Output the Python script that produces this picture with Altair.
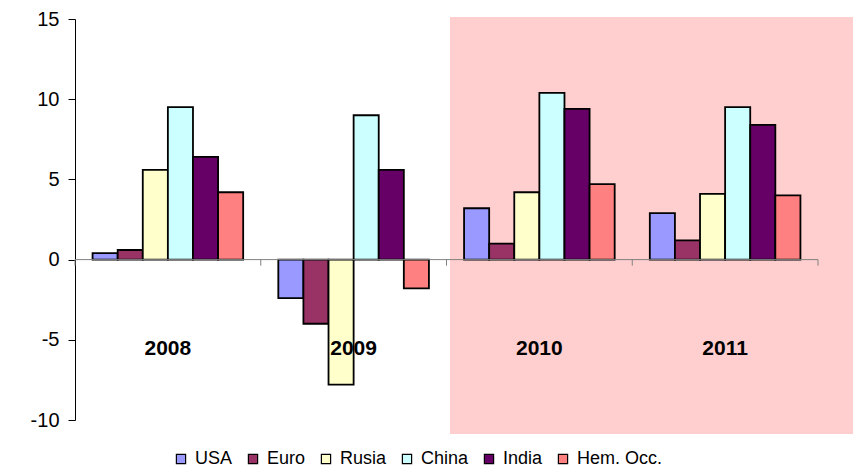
import altair as alt
import pandas as pd

years = ["2008", "2009", "2010", "2011"]
countries = ["USA", "Euro", "Rusia", "China", "India", "Hem. Occ."]
colors = ["#9999FF", "#993366", "#FFFFCC", "#CCFFFF", "#660066", "#FF8080"]

usa = [0.4, -2.4, 3.2, 2.9]
euro = [0.6, -4.0, 1.0, 1.2]
rusia = [5.6, -7.8, 4.2, 4.1]
china = [9.5, 9.0, 10.4, 9.5]
india = [6.4, 5.6, 9.4, 8.4]
hem = [4.2, -1.8, 4.7, 4.0]

y_ticks = [-10, -5, 0, 5, 10, 15]

series = [usa, euro, rusia, china, india, hem]
rows = []
for c, vals in zip(countries, series):
    for yr, v in zip(years, vals):
        rows.append({"year": yr, "country": c, "value": v})
df = pd.DataFrame(rows)
yrs = pd.DataFrame({"year": years})
one = pd.DataFrame({"k": [0]})

W, H = 743, 401
FONT = "Liberation Sans"

xscale = alt.Scale(domain=years, paddingInner=0, paddingOuter=0)
yscale = alt.Scale(domain=[-10, 15], nice=False, zero=False)

bg = alt.Chart(one).mark_rect(color="#FFCECE").encode(
    x=alt.value(375), x2=alt.value(790), y=alt.value(-2), y2=alt.value(415)
)

bars = alt.Chart(df).mark_bar(strokeWidth=1.8).encode(
    x=alt.X("year:N", scale=xscale, axis=None, sort=years),
    xOffset=alt.XOffset("country:N", sort=countries,
                        scale=alt.Scale(paddingOuter=0.7, paddingInner=0)),
    y=alt.Y("value:Q", scale=yscale,
            axis=alt.Axis(values=y_ticks, title=None, grid=False, domainColor="black",
                          tickColor="black", tickSize=7, labelFontSize=20, labelFont=FONT,
                          labelColor="black", labelPadding=9, domainWidth=1,
                          labelExpr="'' + datum.value")),
    color=alt.Color("country:N", sort=countries,
                    scale=alt.Scale(domain=countries, range=colors),
                    legend=alt.Legend(title=None, orient="none", legendX=97, legendY=431,
                                      direction="horizontal", columns=6,
                                      symbolType="square", symbolSize=85,
                                      symbolStrokeColor="black", symbolStrokeWidth=1.2,
                                      labelFontSize=18, labelFont=FONT, labelColor="black",
                                      columnPadding=11, labelOffset=5, padding=0)),
    stroke=alt.value("black"),
)

zero = alt.Chart(one).mark_rule(color="#808080", strokeWidth=1).encode(
    x=alt.value(0), x2=alt.value(W), y=alt.datum(0)
)

ticks = alt.Chart(yrs).mark_rule(color="#808080", strokeWidth=1).encode(
    x=alt.X("year:N", scale=xscale, bandPosition=0, sort=years),
    y=alt.datum(0), y2=alt.datum(-0.38)
)
tick_end = alt.Chart(one).mark_rule(color="#808080", strokeWidth=1).encode(
    x=alt.value(W), y=alt.datum(0), y2=alt.datum(-0.38)
)

labels = alt.Chart(yrs).mark_text(fontSize=21, fontWeight="bold", font=FONT,
                                  color="black", baseline="middle").encode(
    x=alt.X("year:N", scale=xscale, bandPosition=0.5, sort=years),
    y=alt.datum(-5.55),
    text="year:N",
)

chart = alt.layer(bg, bars, zero, ticks, tick_end, labels).resolve_scale(
    x="shared", y="shared"
).properties(
    width=W, height=H,
    autosize=alt.AutoSizeParams(type="none"),
    padding={"left": 67, "top": 11, "right": 35, "bottom": 48},
).configure_view(stroke=None)

chart.save("out.html", embed_options={"renderer": "svg", "actions": False})
